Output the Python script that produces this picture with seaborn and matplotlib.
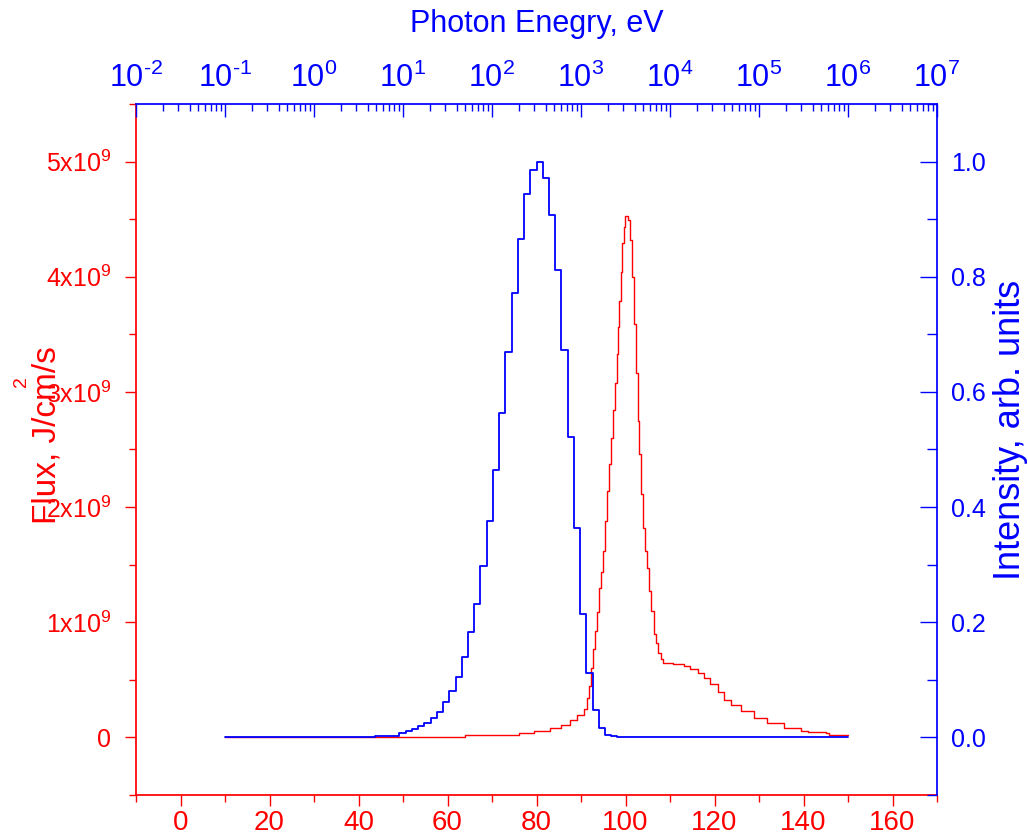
import numpy as np
import pandas as pd
import matplotlib
matplotlib.use("Agg")
import matplotlib.pyplot as plt
from matplotlib.ticker import MultipleLocator, LogLocator, NullFormatter, FormatStrFormatter
import seaborn as sns

# blue spectrum: 100 equal bins between 10 and 150 on the lower scale
bin_lo, bin_hi, n_bins = 10, 150, 100
first_bin = 24          # index of first non-empty bin
intensity = [0.003, 0.003, 0.003, 0.003, 0.007, 0.012, 0.015, 0.019, 0.025,
             0.033, 0.044, 0.062, 0.080, 0.105, 0.140, 0.183, 0.232, 0.297,
             0.375, 0.464, 0.563, 0.670, 0.772, 0.865, 0.943, 0.986, 1.000,
             0.972, 0.907, 0.812, 0.673, 0.521, 0.363, 0.214, 0.112, 0.048,
             0.017, 0.004, 0.002]

# red flux curve, flux in units of 1e9 J/cm2/s
flux_x = [10, 44, 64, 76, 79.4, 83.1, 85.4, 87.6, 89.1, 90.6, 91.4, 91.9, 92.3,
          92.7, 93.2, 93.7, 94.1, 94.5, 95.0, 95.5, 95.9, 96.3, 96.8, 97.2,
          97.6, 98.0, 98.3, 98.6, 99.0, 99.3, 99.6, 99.9, 100.3, 100.6, 101.1,
          101.5, 102.0, 102.3, 102.7, 103.0, 103.4, 103.9, 104.4, 104.8, 105.3,
          105.8, 106.3, 106.8, 107.3, 107.9, 108.5, 110.7, 113.1, 114.6, 116.2,
          117.6, 119.1, 120.7, 122.1, 123.6, 125.9, 128.9, 131.9, 135.6, 139.4,
          140.9, 145.0, 145.8, 150.0]
flux_e9 = [0.0, 0.004, 0.024, 0.035, 0.059, 0.083, 0.106, 0.15, 0.193, 0.251,
           0.338, 0.45, 0.60, 0.77, 0.92, 1.09, 1.30, 1.44, 1.62, 1.88, 2.14,
           2.37, 2.60, 2.84, 3.08, 3.33, 3.56, 3.79, 4.04, 4.29, 4.43, 4.53,
           4.53, 4.49, 4.32, 4.00, 3.59, 3.16, 2.75, 2.46, 2.11, 1.82, 1.62,
           1.47, 1.27, 1.10, 0.90, 0.82, 0.73, 0.68, 0.65, 0.634, 0.62, 0.594,
           0.556, 0.518, 0.46, 0.396, 0.324, 0.28, 0.228, 0.17, 0.125, 0.083,
           0.059, 0.048, 0.042, 0.024, 0.019]

flux_ticks = [0, 1, 2, 3, 4, 5]
flux_labels = ["0"] + [f"{v}x10$^{{9}}$" for v in flux_ticks[1:]]
energy_exponents = [-2, -1, 0, 1, 2, 3, 4, 5, 6, 7]
energy_labels = [f"10$^{{\\text{{{e}}}}}$" for e in energy_exponents]

sns.set_theme(style="white")
plt.rcParams["font.family"] = ["Liberation Sans", "DejaVu Sans"]
plt.rcParams["mathtext.fontset"] = "custom"
plt.rcParams["mathtext.rm"] = "Liberation Sans"
plt.rcParams["mathtext.it"] = "Liberation Sans:italic"
plt.rcParams["mathtext.bf"] = "Liberation Sans:bold"

RED, BLUE = "#ff0000", "#0000ff"

fig = plt.figure(figsize=(10.28, 8.38), dpi=100)
ax = fig.add_axes([136/1028, 1 - 795/838, 801/1028, 691/838])
ax_r = ax.twinx()
ax_t = ax.twiny()

# flux (left / bottom)
flux = np.array(flux_e9) * 1e9
sns.lineplot(x=flux_x, y=flux, ax=ax, color=RED, lw=1.0,
             drawstyle="steps-post", estimator=None, sort=False)

# intensity histogram (right)
width = (bin_hi - bin_lo) / n_bins
spec = pd.DataFrame({
    "x": [bin_lo + (first_bin + i + 0.5) * width for i in range(len(intensity))],
    "w": intensity,
})
sns.histplot(data=spec, x="x", weights="w", bins=n_bins, binrange=(bin_lo, bin_hi),
             element="step", fill=False, color=BLUE, lw=1.3, ax=ax_r)

ax.set_xlim(-10, 170)
ax.set_ylim(-0.5e9, 5.5e9)
ax_r.set_ylim(-0.1, 1.1)
ax_t.set_xscale("log")
ax_t.set_xlim(1e-2, 1e7)

# spines
for a in (ax, ax_r, ax_t):
    for s in a.spines.values():
        s.set_visible(False)
ax.spines["left"].set_visible(True)
ax.spines["left"].set_color(RED)
ax.spines["bottom"].set_visible(True)
ax.spines["bottom"].set_color(RED)
ax_r.spines["right"].set_visible(True)
ax_r.spines["right"].set_color(BLUE)
ax_t.spines["top"].set_visible(True)
ax_t.spines["top"].set_color(BLUE)

# bottom axis
ax.set_xticks(range(0, 161, 20))
ax.xaxis.set_minor_locator(MultipleLocator(10))
ax.tick_params(axis="x", which="both", direction="out", colors=RED,
               labelsize=20, bottom=True, top=False, pad=3)
ax.tick_params(axis="x", which="major", length=8, width=1)
ax.tick_params(axis="x", which="minor", length=5, width=1)

# left axis
ax.set_yticks([v * 1e9 for v in flux_ticks], flux_labels)
ax.yaxis.set_minor_locator(MultipleLocator(0.5e9))
ax.tick_params(axis="y", which="both", direction="out", colors=RED,
               labelsize=18, left=True, right=False, pad=10)
ax.tick_params(axis="y", which="major", length=8, width=1)
ax.tick_params(axis="y", which="minor", length=5, width=1)
ax.set_ylabel("Flux, J/cm/s", color=RED, fontsize=24)
ax.yaxis.set_label_coords(-0.092, 0.521)
ax.text(-0.143, 0.598, "2", transform=ax.transAxes, rotation=90,
        color=RED, fontsize=14, ha="center", va="center")

# right axis
ax_r.set_yticks([0, 0.2, 0.4, 0.6, 0.8, 1.0])
ax_r.yaxis.set_major_formatter(FormatStrFormatter("%.1f"))
ax_r.yaxis.set_minor_locator(MultipleLocator(0.1))
ax_r.tick_params(axis="y", which="both", direction="in", colors=BLUE,
                 labelsize=18, right=True, left=False, pad=10)
ax_r.tick_params(axis="y", which="major", length=12, width=1)
ax_r.tick_params(axis="y", which="minor", length=7, width=1)
ax_r.set_ylabel("Intensity, arb. units", color=BLUE, fontsize=26)
ax_r.yaxis.set_label_coords(1.070, 0.528)

# top axis (photon energy)
ax_t.set_xticks([10.0 ** e for e in energy_exponents], energy_labels)
ax_t.xaxis.set_minor_locator(LogLocator(base=10, subs=np.arange(2, 10), numticks=200))
ax_t.xaxis.set_minor_formatter(NullFormatter())
ax_t.tick_params(axis="x", which="both", direction="in", colors=BLUE,
                 labelsize=22, top=True, bottom=False, pad=7)
ax_t.tick_params(axis="x", which="major", length=9, width=1)
ax_t.tick_params(axis="x", which="minor", length=5, width=1)
ax_t.set_xlabel("Photon Enegry, eV", color=BLUE, fontsize=22)
ax_t.xaxis.set_label_coords(0.5, 1.104)
ax_t.tick_params(axis="y", left=False, right=False, labelleft=False, labelright=False)

ax.set_xlabel("")
ax_r.set_xlabel("")
ax.grid(False)
ax_r.grid(False)
ax_t.grid(False)

fig.savefig("out.png", dpi=100)
